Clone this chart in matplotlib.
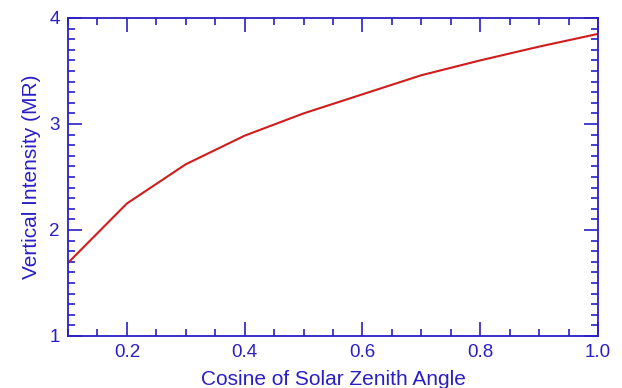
import matplotlib
matplotlib.use("Agg")
import matplotlib.pyplot as plt
from matplotlib.ticker import MultipleLocator, FormatStrFormatter

# Vertical intensity versus cosine of the solar zenith angle
cos_sza = [0.1, 0.2, 0.3, 0.4, 0.5, 0.6, 0.7, 0.8, 0.9, 1.0]
intensity_mr = [1.69, 2.25, 2.62, 2.89, 3.10, 3.28, 3.46, 3.60, 3.73, 3.85]

x_ticks = [0.2, 0.4, 0.6, 0.8, 1.0]
y_ticks = [1, 2, 3, 4]

axis_blue = "#2a1fc4"
line_red = "#d01c1c"

plt.rcParams["font.family"] = ["Liberation Sans", "DejaVu Sans"]

fig = plt.figure(figsize=(6.22, 3.88), dpi=100)
ax = fig.add_axes([68 / 622, 52 / 388, 530 / 622, 318 / 388])

ax.plot(cos_sza, intensity_mr, color=line_red, linewidth=1.5)

ax.set_xlim(0.1, 1.0)
ax.set_ylim(1, 4)
ax.set_xticks(x_ticks)
ax.set_yticks(y_ticks)
ax.xaxis.set_major_formatter(FormatStrFormatter("%.1f"))
ax.yaxis.set_major_formatter(FormatStrFormatter("%d"))
ax.xaxis.set_minor_locator(MultipleLocator(0.05))
ax.yaxis.set_minor_locator(MultipleLocator(0.1))

ax.tick_params(which="both", direction="in", top=True, right=True,
               color=axis_blue, labelcolor=axis_blue, width=1.2)
ax.tick_params(which="major", length=10, labelsize=13.5, pad=6)
ax.tick_params(which="minor", length=5)

for spine in ax.spines.values():
    spine.set_color(axis_blue)
    spine.set_linewidth(1.3)

ax.set_xlabel("Cosine of Solar Zenith Angle", color=axis_blue, fontsize=15, labelpad=6)
ax.set_ylabel("Vertical Intensity (MR)", color=axis_blue, fontsize=15, labelpad=6)

fig.savefig("out.png", dpi=100)
